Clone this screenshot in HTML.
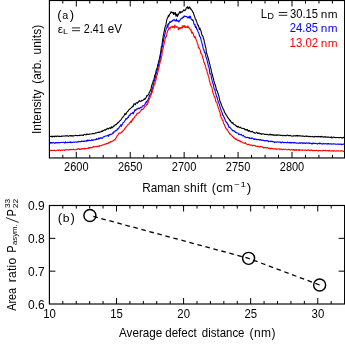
<!DOCTYPE html>
<html><head><meta charset="utf-8"><title>Raman 2D band</title>
<style>html,body{margin:0;padding:0;background:#fff;}svg{display:block;will-change:transform;}text{font-family:"Liberation Sans",sans-serif;}</style></head>
<body>
<svg width="345" height="344" viewBox="0 0 345 344">
<rect width="345" height="344" fill="#fff"/>
<clipPath id="ca"><rect x="49.4" y="0.5" width="295.20000000000005" height="157.45"/></clipPath>
<g fill="none" stroke-width="1.1" stroke-linejoin="round" clip-path="url(#ca)">
<path d="M49.4,136.97 L49.9,136.44 L50.4,136.44 L50.9,136.30 L51.4,136.74 L51.9,135.98 L52.4,136.93 L52.9,136.32 L53.4,136.56 L53.9,136.41 L54.4,136.81 L54.9,135.95 L55.4,136.35 L55.9,136.32 L56.4,136.67 L56.9,136.11 L57.4,136.32 L57.9,136.13 L58.4,136.34 L58.9,136.45 L59.4,136.02 L59.9,136.56 L60.4,136.48 L60.9,136.36 L61.4,136.44 L61.9,136.03 L62.4,136.15 L62.9,135.93 L63.4,136.08 L63.9,136.26 L64.4,135.94 L64.9,135.99 L65.4,135.90 L65.9,135.84 L66.4,135.86 L66.9,136.01 L67.4,135.71 L67.9,136.03 L68.4,136.37 L68.9,136.11 L69.4,135.85 L69.9,135.65 L70.4,135.66 L70.9,136.27 L71.4,135.82 L71.9,135.62 L72.4,135.80 L72.9,136.27 L73.4,135.73 L73.9,135.83 L74.4,135.72 L74.9,135.51 L75.4,135.27 L75.9,135.45 L76.4,135.45 L76.9,135.63 L77.4,135.66 L77.9,135.64 L78.4,135.43 L78.9,135.55 L79.4,135.07 L79.9,135.57 L80.4,135.33 L80.9,135.06 L81.4,135.23 L81.9,135.03 L82.4,135.31 L82.9,135.36 L83.4,135.50 L83.9,134.45 L84.4,134.38 L84.9,134.59 L85.4,134.72 L85.9,134.86 L86.4,134.64 L86.9,133.92 L87.4,134.34 L87.9,134.60 L88.4,134.36 L88.9,134.45 L89.4,134.10 L89.9,134.03 L90.4,134.07 L90.9,134.06 L91.4,133.93 L91.9,133.83 L92.4,133.52 L92.9,133.75 L93.4,133.58 L93.9,133.79 L94.4,133.72 L94.9,133.31 L95.4,133.03 L95.9,132.83 L96.4,133.03 L96.9,132.80 L97.4,132.54 L97.9,132.53 L98.4,132.18 L98.9,132.45 L99.4,131.95 L99.9,132.33 L100.4,131.92 L100.9,131.82 L101.4,131.11 L101.9,131.34 L102.4,131.34 L102.9,130.58 L103.4,130.59 L103.9,130.48 L104.4,129.79 L104.9,130.15 L105.4,130.12 L105.9,129.32 L106.4,129.52 L106.9,128.73 L107.4,128.95 L107.9,128.18 L108.4,128.94 L108.9,128.48 L109.4,128.14 L109.9,127.70 L110.4,128.27 L110.9,128.35 L111.4,126.78 L111.9,127.70 L112.4,127.60 L112.9,126.86 L113.4,125.99 L113.9,126.43 L114.4,125.70 L114.9,125.18 L115.4,124.55 L115.9,124.83 L116.4,124.52 L116.9,123.54 L117.4,123.55 L117.9,122.44 L118.4,122.74 L118.9,121.92 L119.4,121.27 L119.9,120.71 L120.4,120.50 L120.9,119.82 L121.4,119.08 L121.9,118.25 L122.4,117.57 L122.9,117.15 L123.4,116.35 L123.9,115.93 L124.4,114.89 L124.9,113.37 L125.4,114.38 L125.9,114.36 L126.4,113.03 L126.9,112.25 L127.4,111.71 L127.9,111.19 L128.4,110.74 L128.9,109.68 L129.4,109.45 L129.9,108.70 L130.4,108.77 L130.9,107.98 L131.4,107.82 L131.9,106.92 L132.4,106.88 L132.9,105.89 L133.4,106.29 L133.9,103.70 L134.4,103.84 L134.9,104.22 L135.4,104.74 L135.9,103.10 L136.4,103.04 L136.9,102.69 L137.4,103.24 L137.9,102.07 L138.4,102.14 L138.9,101.28 L139.4,100.60 L139.9,101.28 L140.4,101.27 L140.9,101.58 L141.4,100.74 L141.9,100.32 L142.4,100.70 L142.9,100.20 L143.4,99.83 L143.9,99.22 L144.4,99.43 L144.9,98.54 L145.4,98.84 L145.9,97.87 L146.4,97.07 L146.9,95.28 L147.4,95.90 L147.9,95.16 L148.4,94.63 L148.9,93.88 L149.4,92.11 L149.9,91.71 L150.4,89.77 L150.9,89.94 L151.4,86.77 L151.9,85.04 L152.4,83.46 L152.9,82.13 L153.4,80.18 L153.9,80.20 L154.4,77.05 L154.9,74.70 L155.4,74.49 L155.9,71.69 L156.4,69.50 L156.9,68.99 L157.4,66.90 L157.9,64.21 L158.4,63.35 L158.9,60.37 L159.4,59.12 L159.9,56.02 L160.4,54.26 L160.9,50.53 L161.4,46.61 L161.9,46.12 L162.4,41.03 L162.9,38.33 L163.4,35.09 L163.9,32.73 L164.4,30.40 L164.9,27.90 L165.4,26.06 L165.9,24.94 L166.4,21.73 L166.9,19.38 L167.4,18.10 L167.9,17.32 L168.4,15.47 L168.9,16.45 L169.4,14.56 L169.9,13.96 L170.4,13.52 L170.9,11.89 L171.4,11.90 L171.9,12.80 L172.4,12.72 L172.9,12.21 L173.4,14.41 L173.9,12.56 L174.4,13.86 L174.9,14.24 L175.4,12.46 L175.9,16.30 L176.4,15.13 L176.9,14.07 L177.4,16.50 L177.9,15.12 L178.4,14.44 L178.9,13.01 L179.4,13.13 L179.9,11.50 L180.4,13.00 L180.9,11.78 L181.4,11.87 L181.9,12.40 L182.4,11.37 L182.9,11.04 L183.4,10.75 L183.9,9.64 L184.4,10.56 L184.9,10.77 L185.4,9.75 L185.9,9.45 L186.4,7.67 L186.9,7.38 L187.4,6.72 L187.9,8.69 L188.4,7.38 L188.9,8.63 L189.4,6.93 L189.9,7.47 L190.4,8.30 L190.9,9.43 L191.4,9.41 L191.9,10.39 L192.4,11.21 L192.9,12.37 L193.4,12.56 L193.9,14.80 L194.4,15.94 L194.9,17.36 L195.4,19.08 L195.9,19.49 L196.4,21.26 L196.9,22.36 L197.4,24.07 L197.9,25.43 L198.4,25.15 L198.9,27.34 L199.4,29.52 L199.9,28.02 L200.4,29.67 L200.9,30.84 L201.4,32.54 L201.9,35.22 L202.4,35.34 L202.9,36.20 L203.4,38.64 L203.9,39.39 L204.4,42.43 L204.9,43.81 L205.4,46.74 L205.9,47.73 L206.4,52.77 L206.9,53.62 L207.4,55.66 L207.9,57.25 L208.4,58.80 L208.9,60.66 L209.4,63.07 L209.9,64.56 L210.4,67.19 L210.9,68.44 L211.4,71.30 L211.9,73.43 L212.4,74.32 L212.9,77.36 L213.4,78.33 L213.9,80.97 L214.4,82.33 L214.9,84.50 L215.4,85.03 L215.9,87.29 L216.4,89.92 L216.9,90.51 L217.4,91.50 L217.9,93.29 L218.4,94.60 L218.9,96.39 L219.4,98.82 L219.9,101.20 L220.4,101.76 L220.9,103.54 L221.4,104.67 L221.9,106.00 L222.4,107.12 L222.9,108.26 L223.4,109.67 L223.9,109.96 L224.4,112.01 L224.9,112.95 L225.4,113.38 L225.9,114.73 L226.4,114.92 L226.9,115.83 L227.4,116.94 L227.9,117.58 L228.4,118.23 L228.9,118.88 L229.4,119.63 L229.9,120.91 L230.4,120.34 L230.9,121.84 L231.4,122.10 L231.9,122.95 L232.4,123.30 L232.9,122.41 L233.4,124.12 L233.9,124.38 L234.4,124.61 L234.9,124.75 L235.4,125.56 L235.9,125.38 L236.4,126.51 L236.9,126.31 L237.4,127.15 L237.9,126.32 L238.4,126.20 L238.9,127.33 L239.4,127.60 L239.9,127.51 L240.4,127.14 L240.9,127.72 L241.4,128.28 L241.9,128.16 L242.4,128.35 L242.9,128.50 L243.4,128.41 L243.9,128.74 L244.4,128.61 L244.9,129.90 L245.4,129.30 L245.9,129.81 L246.4,129.48 L246.9,130.27 L247.4,129.55 L247.9,130.67 L248.4,130.52 L248.9,131.40 L249.4,130.45 L249.9,131.09 L250.4,131.37 L250.9,131.84 L251.4,131.48 L251.9,131.83 L252.4,131.29 L252.9,131.88 L253.4,132.44 L253.9,132.78 L254.4,132.48 L254.9,133.32 L255.4,133.32 L255.9,132.86 L256.4,132.23 L256.9,132.51 L257.4,132.90 L257.9,133.56 L258.4,133.40 L258.9,132.75 L259.4,133.39 L259.9,134.01 L260.4,133.48 L260.9,133.44 L261.4,134.33 L261.9,133.81 L262.4,133.71 L262.9,134.01 L263.4,133.97 L263.9,133.90 L264.4,134.43 L264.9,134.45 L265.4,134.42 L265.9,134.20 L266.4,134.61 L266.9,134.31 L267.4,134.51 L267.9,134.71 L268.4,134.69 L268.9,135.01 L269.4,134.68 L269.9,134.12 L270.4,134.31 L270.9,135.05 L271.4,134.62 L271.9,134.86 L272.4,134.55 L272.9,135.10 L273.4,134.75 L273.9,135.30 L274.4,134.78 L274.9,135.27 L275.4,135.18 L275.9,134.83 L276.4,135.36 L276.9,134.84 L277.4,134.89 L277.9,135.34 L278.4,135.00 L278.9,135.03 L279.4,135.13 L279.9,134.98 L280.4,135.55 L280.9,135.46 L281.4,135.30 L281.9,135.31 L282.4,135.49 L282.9,135.86 L283.4,135.64 L283.9,135.30 L284.4,135.66 L284.9,135.44 L285.4,135.44 L285.9,136.01 L286.4,135.42 L286.9,135.43 L287.4,135.06 L287.9,135.22 L288.4,135.73 L288.9,135.45 L289.4,135.78 L289.9,135.38 L290.4,135.48 L290.9,135.88 L291.4,136.10 L291.9,135.89 L292.4,136.07 L292.9,136.21 L293.4,136.06 L293.9,135.57 L294.4,135.80 L294.9,136.00 L295.4,135.75 L295.9,135.99 L296.4,135.49 L296.9,135.70 L297.4,136.06 L297.9,135.37 L298.4,135.68 L298.9,135.97 L299.4,135.56 L299.9,136.03 L300.4,135.83 L300.9,135.97 L301.4,136.00 L301.9,136.13 L302.4,135.96 L302.9,136.14 L303.4,135.99 L303.9,136.30 L304.4,136.60 L304.9,136.24 L305.4,136.26 L305.9,135.95 L306.4,136.43 L306.9,136.09 L307.4,136.10 L307.9,136.45 L308.4,136.38 L308.9,136.62 L309.4,136.72 L309.9,136.26 L310.4,136.44 L310.9,136.85 L311.4,136.68 L311.9,136.64 L312.4,136.80 L312.9,136.37 L313.4,136.68 L313.9,136.88 L314.4,136.95 L314.9,136.40 L315.4,136.55 L315.9,136.72 L316.4,136.58 L316.9,136.58 L317.4,136.85 L317.9,136.63 L318.4,136.32 L318.9,136.83 L319.4,136.67 L319.9,136.62 L320.4,136.46 L320.9,137.05 L321.4,136.36 L321.9,136.50 L322.4,136.83 L322.9,137.17 L323.4,137.21 L323.9,136.70 L324.4,136.93 L324.9,136.68 L325.4,137.21 L325.9,136.73 L326.4,137.02 L326.9,137.27 L327.4,137.04 L327.9,137.40 L328.4,136.95 L328.9,137.22 L329.4,137.34 L329.9,137.16 L330.4,137.48 L330.9,137.34 L331.4,136.92 L331.9,138.06 L332.4,137.42 L332.9,137.33 L333.4,137.05 L333.9,137.37 L334.4,137.28 L334.9,137.52 L335.4,137.48 L335.9,137.80 L336.4,137.48 L336.9,137.57 L337.4,137.56 L337.9,137.48 L338.4,137.49 L338.9,137.77 L339.4,137.73 L339.9,137.47 L340.4,137.39 L340.9,137.62 L341.4,137.89 L341.9,137.67 L342.4,138.04 L342.9,137.56 L343.4,137.76 L343.9,137.25 L344.4,137.66 L344.9,137.73" stroke="#000"/>
<path d="M49.4,142.88 L49.9,142.96 L50.4,142.42 L50.9,143.36 L51.4,142.48 L51.9,142.71 L52.4,143.03 L52.9,142.57 L53.4,142.61 L53.9,142.63 L54.4,142.99 L54.9,143.42 L55.4,142.83 L55.9,142.51 L56.4,142.92 L56.9,142.61 L57.4,142.75 L57.9,143.04 L58.4,142.53 L58.9,142.71 L59.4,142.46 L59.9,142.63 L60.4,142.72 L60.9,142.38 L61.4,142.53 L61.9,142.54 L62.4,142.42 L62.9,142.26 L63.4,142.18 L63.9,142.50 L64.4,142.45 L64.9,143.09 L65.4,141.85 L65.9,142.50 L66.4,142.55 L66.9,142.80 L67.4,142.56 L67.9,142.18 L68.4,142.39 L68.9,142.52 L69.4,142.27 L69.9,142.54 L70.4,141.82 L70.9,142.76 L71.4,142.67 L71.9,142.16 L72.4,142.40 L72.9,142.22 L73.4,141.96 L73.9,142.18 L74.4,142.40 L74.9,142.00 L75.4,141.97 L75.9,142.02 L76.4,142.13 L76.9,142.32 L77.4,141.76 L77.9,142.04 L78.4,141.91 L78.9,141.30 L79.4,141.65 L79.9,141.68 L80.4,141.66 L80.9,141.71 L81.4,140.99 L81.9,141.52 L82.4,141.26 L82.9,140.98 L83.4,141.48 L83.9,141.48 L84.4,141.02 L84.9,141.38 L85.4,140.96 L85.9,141.02 L86.4,140.62 L86.9,141.33 L87.4,140.02 L87.9,140.69 L88.4,140.85 L88.9,139.97 L89.4,140.44 L89.9,140.39 L90.4,140.59 L90.9,140.63 L91.4,140.06 L91.9,139.68 L92.4,140.43 L92.9,140.30 L93.4,139.70 L93.9,139.86 L94.4,139.77 L94.9,139.73 L95.4,139.51 L95.9,139.77 L96.4,138.68 L96.9,139.43 L97.4,139.10 L97.9,138.79 L98.4,139.10 L98.9,137.85 L99.4,138.83 L99.9,138.44 L100.4,137.81 L100.9,138.17 L101.4,137.77 L101.9,138.55 L102.4,138.12 L102.9,137.46 L103.4,136.87 L103.9,136.72 L104.4,136.61 L104.9,136.34 L105.4,136.06 L105.9,136.01 L106.4,135.96 L106.9,135.73 L107.4,135.52 L107.9,135.28 L108.4,136.32 L108.9,134.72 L109.4,134.67 L109.9,134.95 L110.4,134.42 L110.9,134.41 L111.4,134.26 L111.9,134.12 L112.4,133.62 L112.9,132.64 L113.4,133.07 L113.9,131.63 L114.4,131.87 L114.9,131.33 L115.4,130.71 L115.9,130.93 L116.4,130.19 L116.9,130.22 L117.4,128.78 L117.9,129.23 L118.4,128.61 L118.9,127.94 L119.4,126.75 L119.9,126.65 L120.4,125.52 L120.9,124.67 L121.4,126.32 L121.9,124.71 L122.4,124.44 L122.9,122.85 L123.4,122.73 L123.9,122.12 L124.4,121.50 L124.9,120.66 L125.4,119.98 L125.9,118.57 L126.4,119.22 L126.9,118.56 L127.4,118.32 L127.9,117.11 L128.4,117.50 L128.9,115.92 L129.4,115.01 L129.9,115.53 L130.4,114.35 L130.9,113.48 L131.4,113.67 L131.9,113.52 L132.4,112.81 L132.9,112.48 L133.4,113.82 L133.9,111.78 L134.4,111.72 L134.9,109.58 L135.4,110.37 L135.9,110.22 L136.4,109.32 L136.9,108.75 L137.4,109.10 L137.9,108.47 L138.4,108.08 L138.9,108.73 L139.4,108.61 L139.9,107.91 L140.4,107.36 L140.9,107.68 L141.4,107.62 L141.9,107.25 L142.4,105.83 L142.9,105.98 L143.4,105.88 L143.9,105.53 L144.4,105.20 L144.9,104.55 L145.4,102.97 L145.9,102.56 L146.4,101.60 L146.9,102.46 L147.4,100.72 L147.9,99.92 L148.4,99.15 L148.9,97.37 L149.4,95.84 L149.9,95.14 L150.4,94.12 L150.9,93.81 L151.4,92.12 L151.9,89.51 L152.4,88.90 L152.9,87.22 L153.4,84.36 L153.9,83.10 L154.4,80.21 L154.9,79.66 L155.4,77.32 L155.9,74.69 L156.4,73.09 L156.9,71.66 L157.4,69.14 L157.9,67.74 L158.4,65.99 L158.9,63.15 L159.4,61.51 L159.9,61.04 L160.4,57.38 L160.9,54.10 L161.4,51.80 L161.9,47.82 L162.4,46.63 L162.9,43.09 L163.4,40.79 L163.9,38.21 L164.4,35.59 L164.9,34.07 L165.4,31.87 L165.9,29.85 L166.4,28.33 L166.9,27.58 L167.4,24.89 L167.9,27.12 L168.4,23.54 L168.9,24.08 L169.4,22.53 L169.9,21.45 L170.4,22.46 L170.9,21.85 L171.4,21.54 L171.9,21.66 L172.4,20.29 L172.9,20.61 L173.4,20.37 L173.9,19.55 L174.4,19.74 L174.9,20.81 L175.4,20.85 L175.9,21.02 L176.4,19.06 L176.9,20.91 L177.4,21.12 L177.9,20.68 L178.4,20.98 L178.9,22.10 L179.4,20.50 L179.9,20.66 L180.4,19.16 L180.9,18.84 L181.4,18.78 L181.9,17.94 L182.4,18.28 L182.9,17.16 L183.4,17.43 L183.9,16.26 L184.4,15.96 L184.9,16.60 L185.4,16.19 L185.9,16.44 L186.4,16.43 L186.9,16.63 L187.4,17.71 L187.9,17.96 L188.4,17.46 L188.9,16.62 L189.4,18.14 L189.9,16.18 L190.4,16.37 L190.9,18.71 L191.4,19.08 L191.9,19.62 L192.4,20.45 L192.9,19.92 L193.4,21.11 L193.9,23.86 L194.4,24.68 L194.9,24.39 L195.4,27.45 L195.9,26.25 L196.4,27.75 L196.9,29.55 L197.4,29.60 L197.9,31.26 L198.4,32.56 L198.9,33.47 L199.4,35.58 L199.9,36.74 L200.4,37.04 L200.9,39.02 L201.4,41.40 L201.9,43.03 L202.4,44.35 L202.9,47.01 L203.4,49.04 L203.9,49.69 L204.4,52.31 L204.9,52.27 L205.4,53.91 L205.9,57.00 L206.4,57.80 L206.9,59.47 L207.4,61.84 L207.9,63.58 L208.4,66.31 L208.9,67.21 L209.4,69.88 L209.9,73.96 L210.4,73.76 L210.9,74.21 L211.4,77.54 L211.9,79.38 L212.4,81.88 L212.9,83.18 L213.4,84.71 L213.9,87.83 L214.4,89.20 L214.9,89.50 L215.4,92.66 L215.9,93.77 L216.4,96.15 L216.9,96.93 L217.4,99.14 L217.9,100.37 L218.4,102.12 L218.9,103.33 L219.4,104.65 L219.9,106.40 L220.4,108.17 L220.9,109.50 L221.4,111.48 L221.9,112.23 L222.4,113.61 L222.9,115.54 L223.4,115.78 L223.9,117.18 L224.4,117.81 L224.9,119.21 L225.4,120.99 L225.9,121.40 L226.4,122.84 L226.9,122.61 L227.4,123.30 L227.9,124.84 L228.4,124.91 L228.9,127.34 L229.4,127.44 L229.9,127.07 L230.4,128.11 L230.9,128.48 L231.4,129.35 L231.9,129.59 L232.4,130.37 L232.9,130.95 L233.4,130.63 L233.9,130.59 L234.4,131.57 L234.9,131.59 L235.4,132.37 L235.9,132.17 L236.4,132.81 L236.9,132.89 L237.4,132.95 L237.9,133.10 L238.4,133.77 L238.9,134.66 L239.4,134.28 L239.9,134.15 L240.4,134.68 L240.9,134.69 L241.4,134.43 L241.9,135.22 L242.4,135.88 L242.9,135.45 L243.4,135.39 L243.9,136.16 L244.4,136.83 L244.9,136.73 L245.4,136.96 L245.9,137.58 L246.4,137.54 L246.9,137.41 L247.4,137.27 L247.9,137.54 L248.4,137.61 L248.9,138.06 L249.4,137.62 L249.9,138.54 L250.4,138.21 L250.9,138.15 L251.4,138.65 L251.9,137.83 L252.4,138.33 L252.9,138.49 L253.4,139.06 L253.9,138.74 L254.4,139.44 L254.9,138.94 L255.4,139.33 L255.9,139.04 L256.4,139.70 L256.9,139.35 L257.4,139.68 L257.9,139.45 L258.4,139.35 L258.9,139.69 L259.4,140.17 L259.9,139.61 L260.4,139.53 L260.9,139.97 L261.4,140.37 L261.9,139.89 L262.4,140.11 L262.9,140.40 L263.4,140.32 L263.9,140.57 L264.4,140.90 L264.9,140.62 L265.4,140.67 L265.9,140.98 L266.4,140.80 L266.9,140.61 L267.4,140.66 L267.9,140.71 L268.4,141.65 L268.9,141.17 L269.4,141.42 L269.9,141.54 L270.4,141.15 L270.9,141.67 L271.4,141.41 L271.9,141.07 L272.4,141.66 L272.9,141.49 L273.4,141.75 L273.9,142.00 L274.4,142.58 L274.9,141.86 L275.4,141.98 L275.9,142.16 L276.4,142.14 L276.9,142.08 L277.4,141.87 L277.9,141.93 L278.4,142.17 L278.9,141.94 L279.4,142.10 L279.9,141.97 L280.4,142.63 L280.9,141.96 L281.4,142.89 L281.9,142.25 L282.4,142.15 L282.9,142.14 L283.4,142.68 L283.9,142.77 L284.4,142.30 L284.9,142.63 L285.4,142.53 L285.9,142.52 L286.4,142.64 L286.9,142.82 L287.4,142.15 L287.9,142.09 L288.4,142.73 L288.9,142.68 L289.4,142.89 L289.9,142.29 L290.4,142.50 L290.9,143.16 L291.4,142.45 L291.9,142.89 L292.4,142.61 L292.9,142.73 L293.4,142.50 L293.9,143.17 L294.4,142.40 L294.9,142.59 L295.4,142.68 L295.9,143.22 L296.4,143.01 L296.9,143.13 L297.4,142.96 L297.9,143.04 L298.4,143.12 L298.9,143.40 L299.4,143.09 L299.9,142.67 L300.4,143.34 L300.9,143.10 L301.4,142.81 L301.9,143.06 L302.4,142.87 L302.9,143.65 L303.4,143.06 L303.9,142.67 L304.4,143.26 L304.9,142.99 L305.4,143.53 L305.9,143.26 L306.4,142.81 L306.9,143.14 L307.4,143.01 L307.9,143.11 L308.4,143.15 L308.9,142.84 L309.4,143.39 L309.9,143.15 L310.4,143.16 L310.9,143.57 L311.4,143.86 L311.9,143.27 L312.4,143.87 L312.9,142.96 L313.4,143.60 L313.9,143.35 L314.4,143.48 L314.9,143.28 L315.4,143.39 L315.9,143.47 L316.4,143.48 L316.9,143.67 L317.4,144.13 L317.9,143.46 L318.4,143.59 L318.9,143.23 L319.4,143.07 L319.9,143.99 L320.4,143.38 L320.9,143.53 L321.4,143.71 L321.9,143.93 L322.4,143.81 L322.9,144.17 L323.4,143.73 L323.9,143.37 L324.4,143.83 L324.9,143.84 L325.4,143.64 L325.9,143.76 L326.4,143.72 L326.9,144.24 L327.4,143.75 L327.9,143.59 L328.4,143.97 L328.9,143.53 L329.4,144.02 L329.9,144.03 L330.4,143.78 L330.9,143.86 L331.4,143.86 L331.9,144.32 L332.4,144.09 L332.9,143.78 L333.4,143.79 L333.9,144.03 L334.4,144.06 L334.9,143.92 L335.4,144.14 L335.9,144.06 L336.4,144.32 L336.9,144.21 L337.4,144.11 L337.9,144.17 L338.4,143.98 L338.9,144.34 L339.4,144.26 L339.9,144.11 L340.4,144.23 L340.9,144.11 L341.4,144.72 L341.9,144.14 L342.4,144.35 L342.9,144.33 L343.4,144.11 L343.9,144.28 L344.4,144.22 L344.9,144.35" stroke="#0000ff"/>
<path d="M49.4,151.01 L49.9,150.68 L50.4,150.59 L50.9,150.12 L51.4,150.48 L51.9,150.45 L52.4,150.50 L52.9,150.36 L53.4,150.48 L53.9,150.37 L54.4,150.16 L54.9,150.66 L55.4,150.64 L55.9,150.83 L56.4,150.42 L56.9,150.29 L57.4,150.24 L57.9,149.98 L58.4,150.57 L58.9,150.05 L59.4,150.01 L59.9,150.23 L60.4,150.62 L60.9,150.30 L61.4,149.97 L61.9,150.03 L62.4,150.34 L62.9,150.12 L63.4,149.95 L63.9,150.07 L64.4,150.29 L64.9,150.57 L65.4,149.75 L65.9,149.88 L66.4,149.81 L66.9,149.38 L67.4,149.73 L67.9,149.68 L68.4,150.19 L68.9,149.85 L69.4,149.44 L69.9,149.99 L70.4,149.71 L70.9,149.33 L71.4,149.59 L71.9,149.56 L72.4,149.45 L72.9,149.65 L73.4,149.03 L73.9,149.51 L74.4,149.81 L74.9,149.73 L75.4,149.76 L75.9,149.73 L76.4,149.78 L76.9,149.06 L77.4,149.53 L77.9,148.77 L78.4,149.06 L78.9,148.66 L79.4,149.40 L79.9,149.43 L80.4,148.97 L80.9,149.45 L81.4,148.73 L81.9,148.90 L82.4,148.85 L82.9,148.45 L83.4,148.81 L83.9,149.16 L84.4,148.28 L84.9,148.75 L85.4,148.39 L85.9,148.87 L86.4,148.44 L86.9,148.43 L87.4,148.35 L87.9,148.17 L88.4,147.63 L88.9,148.35 L89.4,147.49 L89.9,147.88 L90.4,147.91 L90.9,147.41 L91.4,147.62 L91.9,147.84 L92.4,147.41 L92.9,147.07 L93.4,146.38 L93.9,146.87 L94.4,146.88 L94.9,146.81 L95.4,146.57 L95.9,146.87 L96.4,146.47 L96.9,146.50 L97.4,146.62 L97.9,146.03 L98.4,146.08 L98.9,146.72 L99.4,146.20 L99.9,145.39 L100.4,145.64 L100.9,145.71 L101.4,145.78 L101.9,145.29 L102.4,144.91 L102.9,144.69 L103.4,144.96 L103.9,144.69 L104.4,144.24 L104.9,144.17 L105.4,143.92 L105.9,144.12 L106.4,143.46 L106.9,143.67 L107.4,143.61 L107.9,143.29 L108.4,142.65 L108.9,143.20 L109.4,142.31 L109.9,142.51 L110.4,141.92 L110.9,141.37 L111.4,141.83 L111.9,141.59 L112.4,141.19 L112.9,141.02 L113.4,140.36 L113.9,139.97 L114.4,139.77 L114.9,140.10 L115.4,139.21 L115.9,138.08 L116.4,137.62 L116.9,136.27 L117.4,135.41 L117.9,135.25 L118.4,134.08 L118.9,133.12 L119.4,133.06 L119.9,133.18 L120.4,132.93 L120.9,133.12 L121.4,131.98 L121.9,132.18 L122.4,131.58 L122.9,130.83 L123.4,130.70 L123.9,129.99 L124.4,128.83 L124.9,129.06 L125.4,127.41 L125.9,127.30 L126.4,126.61 L126.9,126.15 L127.4,125.04 L127.9,124.79 L128.4,124.20 L128.9,124.20 L129.4,122.85 L129.9,122.74 L130.4,122.06 L130.9,121.02 L131.4,122.34 L131.9,120.45 L132.4,119.17 L132.9,119.95 L133.4,118.13 L133.9,118.20 L134.4,117.82 L134.9,116.46 L135.4,115.96 L135.9,115.31 L136.4,114.94 L136.9,113.61 L137.4,113.22 L137.9,113.21 L138.4,113.29 L138.9,112.61 L139.4,112.77 L139.9,111.90 L140.4,110.96 L140.9,110.84 L141.4,109.50 L141.9,109.65 L142.4,109.18 L142.9,109.37 L143.4,109.06 L143.9,107.87 L144.4,107.28 L144.9,106.17 L145.4,106.28 L145.9,105.81 L146.4,105.19 L146.9,103.75 L147.4,104.43 L147.9,103.10 L148.4,101.35 L148.9,99.97 L149.4,98.84 L149.9,97.80 L150.4,96.35 L150.9,95.27 L151.4,94.07 L151.9,93.02 L152.4,91.44 L152.9,89.19 L153.4,87.94 L153.9,85.87 L154.4,84.11 L154.9,83.95 L155.4,80.74 L155.9,80.47 L156.4,77.16 L156.9,75.66 L157.4,74.30 L157.9,71.69 L158.4,69.97 L158.9,67.56 L159.4,65.35 L159.9,63.46 L160.4,60.96 L160.9,60.24 L161.4,56.65 L161.9,55.53 L162.4,50.00 L162.9,49.44 L163.4,47.42 L163.9,44.30 L164.4,42.79 L164.9,40.16 L165.4,37.58 L165.9,36.39 L166.4,36.59 L166.9,33.30 L167.4,32.08 L167.9,30.41 L168.4,29.77 L168.9,27.74 L169.4,27.75 L169.9,29.16 L170.4,27.63 L170.9,26.88 L171.4,26.88 L171.9,27.27 L172.4,26.26 L172.9,27.50 L173.4,26.94 L173.9,26.48 L174.4,27.87 L174.9,24.95 L175.4,26.48 L175.9,27.29 L176.4,26.56 L176.9,27.27 L177.4,27.02 L177.9,27.09 L178.4,29.72 L178.9,28.22 L179.4,27.75 L179.9,28.79 L180.4,27.52 L180.9,28.18 L181.4,27.54 L181.9,28.30 L182.4,25.83 L182.9,27.31 L183.4,26.66 L183.9,25.57 L184.4,27.21 L184.9,25.76 L185.4,27.70 L185.9,26.93 L186.4,27.16 L186.9,26.81 L187.4,27.64 L187.9,25.82 L188.4,27.63 L188.9,27.47 L189.4,28.56 L189.9,28.80 L190.4,29.87 L190.9,29.40 L191.4,32.08 L191.9,33.17 L192.4,32.11 L192.9,33.15 L193.4,34.32 L193.9,36.04 L194.4,37.59 L194.9,36.47 L195.4,38.11 L195.9,39.02 L196.4,40.29 L196.9,41.24 L197.4,44.00 L197.9,44.20 L198.4,47.36 L198.9,48.18 L199.4,48.06 L199.9,49.33 L200.4,50.92 L200.9,53.65 L201.4,53.47 L201.9,54.41 L202.4,56.81 L202.9,58.52 L203.4,59.27 L203.9,62.30 L204.4,62.91 L204.9,64.65 L205.4,65.45 L205.9,67.74 L206.4,69.68 L206.9,70.40 L207.4,73.87 L207.9,74.12 L208.4,76.72 L208.9,77.30 L209.4,81.09 L209.9,81.82 L210.4,84.03 L210.9,85.96 L211.4,86.47 L211.9,87.65 L212.4,90.42 L212.9,92.68 L213.4,93.70 L213.9,95.56 L214.4,97.08 L214.9,97.14 L215.4,99.58 L215.9,101.96 L216.4,101.99 L216.9,102.63 L217.4,105.03 L217.9,106.36 L218.4,108.33 L218.9,109.20 L219.4,111.33 L219.9,111.79 L220.4,114.97 L220.9,116.91 L221.4,118.29 L221.9,118.36 L222.4,120.55 L222.9,120.22 L223.4,122.96 L223.9,123.95 L224.4,124.64 L224.9,126.30 L225.4,127.21 L225.9,128.50 L226.4,129.01 L226.9,129.85 L227.4,129.67 L227.9,130.70 L228.4,131.65 L228.9,132.60 L229.4,133.07 L229.9,134.25 L230.4,133.82 L230.9,134.60 L231.4,135.30 L231.9,135.60 L232.4,136.36 L232.9,136.40 L233.4,137.62 L233.9,137.38 L234.4,138.34 L234.9,138.30 L235.4,139.25 L235.9,138.53 L236.4,139.59 L236.9,139.57 L237.4,140.12 L237.9,140.77 L238.4,140.20 L238.9,140.41 L239.4,140.79 L239.9,141.49 L240.4,140.98 L240.9,141.93 L241.4,141.68 L241.9,141.96 L242.4,142.44 L242.9,142.89 L243.4,142.73 L243.9,142.94 L244.4,143.25 L244.9,143.33 L245.4,142.66 L245.9,143.56 L246.4,143.87 L246.9,144.34 L247.4,144.78 L247.9,144.45 L248.4,144.38 L248.9,144.16 L249.4,144.62 L249.9,144.97 L250.4,145.24 L250.9,144.66 L251.4,145.13 L251.9,145.42 L252.4,145.86 L252.9,145.45 L253.4,145.30 L253.9,145.36 L254.4,145.57 L254.9,145.58 L255.4,146.14 L255.9,146.31 L256.4,146.30 L256.9,146.55 L257.4,146.13 L257.9,146.49 L258.4,146.35 L258.9,146.58 L259.4,147.03 L259.9,146.74 L260.4,146.28 L260.9,146.86 L261.4,146.81 L261.9,146.66 L262.4,146.96 L262.9,147.56 L263.4,147.86 L263.9,147.29 L264.4,147.81 L264.9,147.93 L265.4,147.32 L265.9,147.72 L266.4,147.78 L266.9,147.92 L267.4,147.48 L267.9,147.91 L268.4,148.38 L268.9,148.50 L269.4,148.73 L269.9,148.18 L270.4,148.87 L270.9,148.59 L271.4,148.09 L271.9,148.74 L272.4,148.49 L272.9,148.79 L273.4,148.68 L273.9,149.09 L274.4,148.88 L274.9,148.79 L275.4,149.18 L275.9,149.03 L276.4,148.89 L276.9,149.39 L277.4,148.98 L277.9,148.96 L278.4,149.02 L278.9,148.80 L279.4,149.08 L279.9,149.75 L280.4,149.04 L280.9,149.31 L281.4,149.04 L281.9,149.20 L282.4,149.79 L282.9,149.65 L283.4,149.28 L283.9,149.47 L284.4,149.27 L284.9,149.31 L285.4,149.30 L285.9,149.33 L286.4,149.67 L286.9,149.76 L287.4,149.75 L287.9,149.60 L288.4,149.32 L288.9,149.67 L289.4,149.47 L289.9,149.95 L290.4,149.89 L290.9,149.95 L291.4,149.69 L291.9,149.34 L292.4,150.06 L292.9,150.14 L293.4,149.47 L293.9,149.90 L294.4,150.18 L294.9,149.63 L295.4,150.36 L295.9,149.84 L296.4,149.68 L296.9,150.31 L297.4,150.05 L297.9,149.83 L298.4,150.23 L298.9,149.53 L299.4,150.49 L299.9,149.85 L300.4,150.14 L300.9,149.98 L301.4,150.20 L301.9,150.33 L302.4,149.92 L302.9,150.33 L303.4,150.08 L303.9,150.00 L304.4,150.13 L304.9,149.95 L305.4,150.02 L305.9,150.46 L306.4,150.20 L306.9,150.53 L307.4,150.37 L307.9,150.04 L308.4,149.84 L308.9,150.15 L309.4,150.39 L309.9,150.34 L310.4,150.16 L310.9,150.61 L311.4,149.96 L311.9,150.09 L312.4,150.44 L312.9,150.94 L313.4,150.53 L313.9,150.21 L314.4,150.60 L314.9,150.64 L315.4,150.71 L315.9,150.40 L316.4,150.32 L316.9,150.55 L317.4,150.63 L317.9,150.92 L318.4,151.05 L318.9,150.40 L319.4,150.46 L319.9,150.58 L320.4,150.55 L320.9,150.73 L321.4,150.74 L321.9,150.70 L322.4,150.96 L322.9,150.63 L323.4,150.43 L323.9,150.33 L324.4,150.46 L324.9,150.47 L325.4,150.29 L325.9,150.88 L326.4,150.78 L326.9,150.65 L327.4,150.55 L327.9,150.41 L328.4,150.57 L328.9,151.19 L329.4,150.30 L329.9,150.83 L330.4,150.97 L330.9,150.85 L331.4,150.75 L331.9,151.00 L332.4,150.60 L332.9,150.97 L333.4,151.17 L333.9,150.63 L334.4,150.69 L334.9,150.91 L335.4,151.10 L335.9,151.18 L336.4,151.05 L336.9,150.76 L337.4,150.67 L337.9,150.97 L338.4,151.01 L338.9,150.70 L339.4,150.95 L339.9,151.02 L340.4,151.17 L340.9,150.75 L341.4,151.08 L341.9,150.72 L342.4,150.88 L342.9,150.96 L343.4,151.30 L343.9,151.67 L344.4,151.05 L344.9,151.10" stroke="#ff0000"/>
</g>
<g fill="none" stroke="#000" stroke-width="1.15">
<rect x="49.4" y="0.5" width="295.20000000000005" height="157.45"/>
<rect x="49.4" y="205.5" width="295.20000000000005" height="98.5"/>
</g>
<path d="M62.82,157.95v-3.05M62.82,0.5v3.05M76.30,157.95v-6.0M76.30,0.5v6.0M89.78,157.95v-3.05M89.78,0.5v3.05M103.26,157.95v-3.05M103.26,0.5v3.05M116.74,157.95v-3.05M116.74,0.5v3.05M130.22,157.95v-6.0M130.22,0.5v6.0M143.71,157.95v-3.05M143.71,0.5v3.05M157.19,157.95v-3.05M157.19,0.5v3.05M170.67,157.95v-3.05M170.67,0.5v3.05M184.15,157.95v-6.0M184.15,0.5v6.0M197.63,157.95v-3.05M197.63,0.5v3.05M211.11,157.95v-3.05M211.11,0.5v3.05M224.59,157.95v-3.05M224.59,0.5v3.05M238.07,157.95v-6.0M238.07,0.5v6.0M251.56,157.95v-3.05M251.56,0.5v3.05M265.04,157.95v-3.05M265.04,0.5v3.05M278.52,157.95v-3.05M278.52,0.5v3.05M292.00,157.95v-6.0M292.00,0.5v6.0M305.48,157.95v-3.05M305.48,0.5v3.05M318.96,157.95v-3.05M318.96,0.5v3.05M332.44,157.95v-3.05M332.44,0.5v3.05M62.82,304.0v-3.05M62.82,205.5v3.05M76.24,304.0v-3.05M76.24,205.5v3.05M89.65,304.0v-3.05M89.65,205.5v3.05M103.07,304.0v-3.05M103.07,205.5v3.05M116.49,304.0v-6.0M116.49,205.5v6.0M129.91,304.0v-3.05M129.91,205.5v3.05M143.33,304.0v-3.05M143.33,205.5v3.05M156.75,304.0v-3.05M156.75,205.5v3.05M170.16,304.0v-3.05M170.16,205.5v3.05M183.58,304.0v-6.0M183.58,205.5v6.0M197.00,304.0v-3.05M197.00,205.5v3.05M210.42,304.0v-3.05M210.42,205.5v3.05M223.84,304.0v-3.05M223.84,205.5v3.05M237.25,304.0v-3.05M237.25,205.5v3.05M250.67,304.0v-6.0M250.67,205.5v6.0M264.09,304.0v-3.05M264.09,205.5v3.05M277.51,304.0v-3.05M277.51,205.5v3.05M290.93,304.0v-3.05M290.93,205.5v3.05M304.35,304.0v-3.05M304.35,205.5v3.05M317.76,304.0v-6.0M317.76,205.5v6.0M331.18,304.0v-3.05M331.18,205.5v3.05M49.4,271.17h6.0M344.6,271.17h-6.0M49.4,238.33h6.0M344.6,238.33h-6.0" stroke="#000" stroke-width="1.0" fill="none"/>
<path d="M319.65,285.0 L248.6,258.35 L89.9,215.5" fill="none" stroke="#000" stroke-width="1.3" stroke-dasharray="4.6 3.69"/>
<circle cx="319.65" cy="285.0" r="6" fill="none" stroke="#000" stroke-width="1.45"/>
<circle cx="248.6" cy="258.35" r="6" fill="none" stroke="#000" stroke-width="1.45"/>
<circle cx="89.9" cy="215.5" r="6" fill="none" stroke="#000" stroke-width="1.45"/>
<g font-family="'Liberation Sans', sans-serif" fill="#000" opacity="0.999">
<text transform="translate(143.20,192.3) scale(0.9817,1)" x="-1.000" font-size="12px">Raman</text>
<text transform="translate(184.10,192.3)" x="-0.375" font-size="12px" letter-spacing="0.300">shift</text>
<text transform="translate(212.40,192.3) scale(1.0309,1)" x="-0.750" font-size="12px" letter-spacing="0.450">(cm</text>
<text transform="translate(234.70,186.6) scale(1.2125,1)" x="-0.375" font-size="8px" letter-spacing="0.450">−1</text>
<text transform="translate(246.80,192.3) scale(1.1200,1)" x="-0.125" font-size="12px">)</text>
<text transform="translate(119.00,336.8) scale(0.9727,1)" x="-0.000" font-size="12px">Average</text>
<text transform="translate(165.70,336.8) scale(0.9619,1)" x="-0.500" font-size="12px">defect</text>
<text transform="translate(202.30,336.8) scale(0.9559,1)" x="-0.500" font-size="12px">distance</text>
<text transform="translate(250.30,336.8)" x="-0.750" font-size="12px" letter-spacing="0.392">(nm)</text>
<text transform="translate(40.8,132.90) rotate(-90) scale(0.9954,1)" x="-1.125" font-size="12px">Intensity</text>
<text transform="translate(40.8,83.00) rotate(-90) scale(0.9836,1)" x="-0.750" font-size="12px">(arb.</text>
<text transform="translate(40.8,53.70) rotate(-90)" x="-0.750" font-size="12px" letter-spacing="0.065">units)</text>
<text transform="translate(15.5,310.70) rotate(-90) scale(0.8946,1)" x="-0.000" font-size="12px">Area</text>
<text transform="translate(15.5,281.60) rotate(-90)" x="-0.750" font-size="12px" letter-spacing="0.319">ratio</text>
<text transform="translate(15.5,251.60) rotate(-90) scale(0.8615,1)" x="-1.000" font-size="12.3px">P</text>
<text transform="translate(16.9,244.70) rotate(-90)" x="-0.375" font-size="7.8px" letter-spacing="0.012">asym.</text>
<text transform="translate(15.5,215.70) rotate(-90) scale(0.8923,1)" x="-1.000" font-size="12.3px">P</text>
<text transform="translate(10.0,207.80) rotate(-90) scale(1.0708,1)" x="-0.250" font-size="7.8px">33</text>
<text transform="translate(18.0,207.80) rotate(-90) scale(1.1048,1)" x="-0.375" font-size="7.8px">22</text>
<text transform="translate(58.00,18.7) scale(1.0074,1)" x="-0.750" font-size="13px">(</text>
<text transform="translate(62.80,18.7) scale(0.9778,1)" x="-0.500" font-size="11px">a</text>
<text transform="translate(69.90,18.7) scale(1.0074,1)" x="-0.125" font-size="13px">)</text>
<text transform="translate(58.60,221.6) scale(1.0074,1)" x="-0.750" font-size="13px">(</text>
<text transform="translate(63.60,221.6) scale(1.0537,1)" x="-0.750" font-size="11.5px">b</text>
<text transform="translate(70.60,221.6) scale(1.0074,1)" x="-0.125" font-size="13px">)</text>
<text transform="translate(58.10,32.6) scale(1.1613,1)" x="-0.375" font-size="10.2px">ε</text>
<text transform="translate(63.80,33.9) scale(1.1714,1)" x="-0.625" font-size="7.8px">L</text>
<text transform="translate(84.30,32.85) scale(0.8949,1)" x="-0.625" font-size="12px">2.41</text>
<text transform="translate(108.20,32.7) scale(0.9699,1)" x="-0.500" font-size="12px">eV</text>
<text transform="translate(261.60,17.7) scale(0.9524,1)" x="-1.000" font-size="12px">L</text>
<text transform="translate(268.10,19.2) scale(1.1000,1)" x="-0.750" font-size="8.5px">D</text>
<text transform="translate(290.40,17.8) scale(0.9345,1)" x="-0.500" font-size="12px">30.15</text>
<text transform="translate(321.60,17.7) scale(1.0704,1)" x="-0.750" font-size="11px" letter-spacing="0.450">nm</text>
<text transform="translate(290.40,32.2) scale(0.9385,1)" x="-0.625" font-size="12px" fill="#0000ff">24.85</text>
<text transform="translate(321.60,32.1) scale(1.0704,1)" x="-0.750" font-size="11px" letter-spacing="0.450" fill="#0000ff">nm</text>
<text transform="translate(290.40,46.6) scale(0.9509,1)" x="-0.875" font-size="12px" fill="#ff0000">13.02</text>
<text transform="translate(321.60,46.5) scale(1.0704,1)" x="-0.750" font-size="11px" letter-spacing="0.450" fill="#ff0000">nm</text>
</g>
<g stroke="#000" stroke-width="0.95" fill="none">
<path d="M72.0,27.9H80.0M72.0,30.7H80.0" stroke-width="0.85"/>
<path d="M278.8,12.5H287.3M278.8,15.3H287.3" stroke-width="0.85"/>
<path d="M18.7,222.5L6.0,217.6" stroke-width="0.85"/>
</g>
<g font-family="'Liberation Sans', sans-serif" font-size="12px" fill="#000" opacity="0.999">
<text transform="translate(76.3,170.9) scale(0.917,1)" text-anchor="middle">2600</text>
<text transform="translate(130.2,170.9) scale(0.917,1)" text-anchor="middle">2650</text>
<text transform="translate(184.1,170.9) scale(0.917,1)" text-anchor="middle">2700</text>
<text transform="translate(238.1,170.9) scale(0.917,1)" text-anchor="middle">2750</text>
<text transform="translate(292.0,170.9) scale(0.917,1)" text-anchor="middle">2800</text>
<text transform="translate(49.5,317.8) scale(0.95,1)" text-anchor="middle">10</text>
<text transform="translate(116.6,317.8) scale(0.95,1)" text-anchor="middle">15</text>
<text transform="translate(183.7,317.8) scale(0.95,1)" text-anchor="middle">20</text>
<text transform="translate(250.8,317.8) scale(0.95,1)" text-anchor="middle">25</text>
<text transform="translate(317.9,317.8) scale(0.95,1)" text-anchor="middle">30</text>
<text transform="translate(44.7,308.7) scale(1.0,1)" text-anchor="end">0.6</text>
<text transform="translate(44.7,275.9) scale(1.0,1)" text-anchor="end">0.7</text>
<text transform="translate(44.7,243.0) scale(1.0,1)" text-anchor="end">0.8</text>
<text transform="translate(44.7,210.2) scale(1.0,1)" text-anchor="end">0.9</text>
</g>
</svg>
</body></html>
